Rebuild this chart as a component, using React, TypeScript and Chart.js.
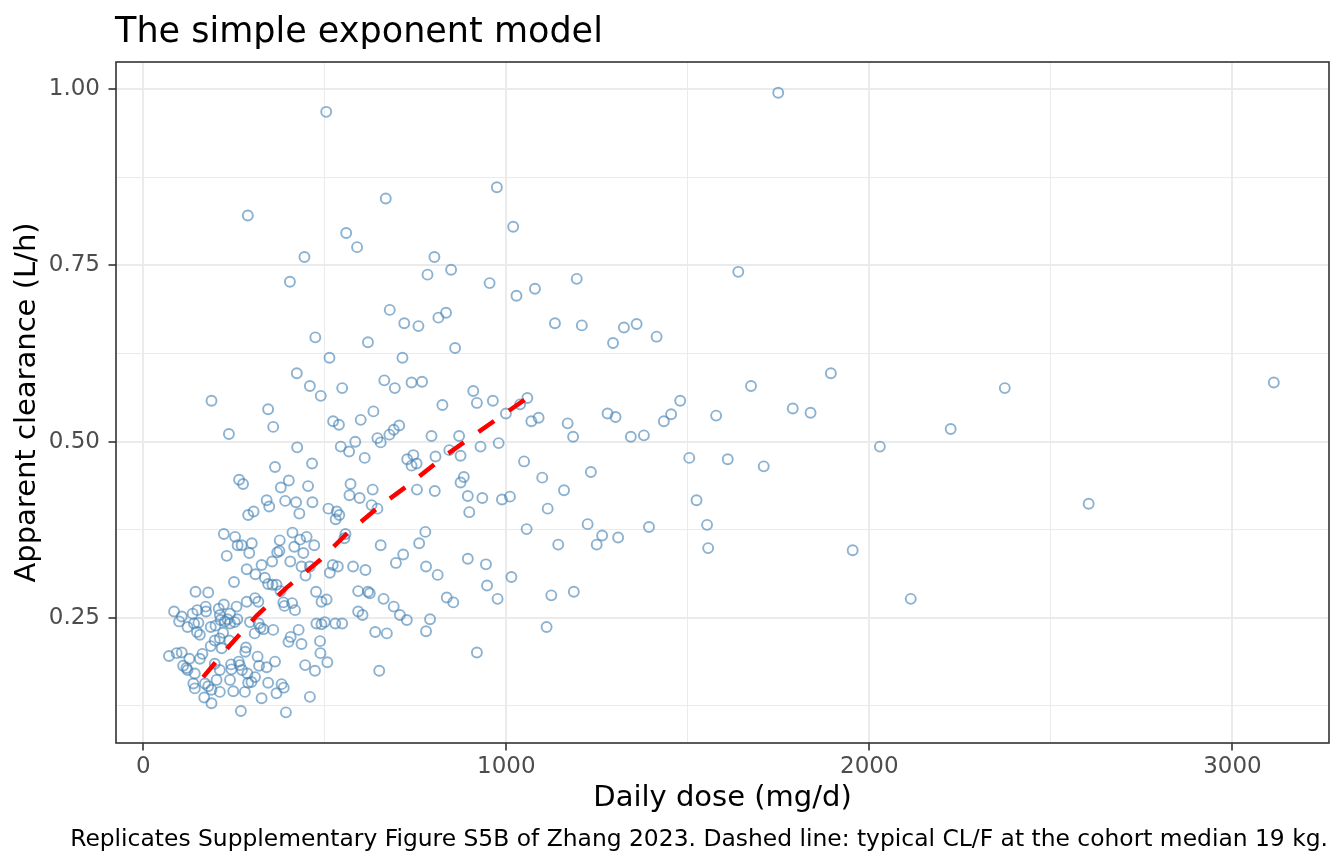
import { useEffect, useRef } from 'react';
import { Chart, registerables } from 'chart.js';

Chart.register(...registerables);

const FONT = 'DejaVu Sans';

const chartTitle = 'The simple exponent model';
const chartCaption =
  'Replicates Supplementary Figure S5B of Zhang 2023. Dashed line: typical CL/F at the cohort median 19 kg.';

// observed daily dose (mg/d) per patient
const doses = [
  504, 668, 288, 559, 589, 444, 802, 783, 404, 679, 719, 758, 813, 474, 619, 513, 714, 423, 459, 548,
  664, 693, 739, 768,
  974, 1019, 848, 954, 1028, 1079, 1194, 834, 1134, 1208, 1324, 1359, 1294, 1414, 859,
  1749, 1639, 1894, 1674, 2373,
  1789, 1838, 2224, 2029, 1610, 1709, 1954, 2114,
  3114, 2604,
  824, 909, 919, 963, 999, 1038, 1058, 1069, 1089, 1169, 1184, 1279, 1301, 1343, 1379, 1434, 1454, 1479,
  1578, 870, 929, 979, 843, 874, 1049, 1504, 883, 874, 1099, 1233, 1159, 894, 934, 988, 1010, 898, 1114,
  1524, 1056, 1224, 1264, 1249, 1308, 1393, 1143, 1553, 1556, 894, 944,
  947, 1014, 836, 854, 976, 1124, 1186, 1111, 919,
  188, 344, 358, 236, 489, 523, 539, 599, 634, 544, 567, 584, 610, 645, 654, 678, 690, 705, 794, 424,
  465, 363, 264, 275, 401, 379, 454, 571, 568, 596, 632, 629, 645, 727, 744, 739, 753, 805, 754, 803,
  340, 347, 391, 421, 430, 466, 289, 304, 510, 533, 540, 530, 222, 253, 260, 271, 299, 292, 230, 376,
  411, 432, 450, 416, 375, 369, 441, 471, 557, 554, 654, 716, 777, 760,
  285, 309, 326, 355, 405, 436, 459, 447, 514, 522, 536, 578, 612, 696, 779, 811, 250, 335, 344, 356,
  367, 378, 144, 179, 476, 592, 619, 624, 662, 85, 106, 136, 149, 172, 173, 208, 222, 239, 257, 285,
  308, 317, 386, 389, 410, 418, 491, 505, 592, 604, 690, 707, 726, 790, 779, 99, 122, 140, 152, 148,
  156, 186, 199, 211, 213, 225, 232, 239, 252, 259, 294, 318, 323, 331, 307, 358, 477, 491, 500, 529,
  548, 639, 671, 220, 211, 237, 197, 186, 216, 283, 281, 406, 400, 428, 436, 487, 488, 71, 92, 106,
  127, 163, 156, 315, 363, 446, 507, 473, 650, 110, 119, 122, 142, 197, 211, 242, 243, 263, 266, 272,
  287, 319, 340, 138, 142, 170, 179, 188, 202, 211, 239, 248, 280, 289, 298, 308, 344, 381, 387, 367,
  168, 188, 269, 326, 393, 459,
];

// apparent clearance CL/F (L/h), same order as doses
const clearances = [
  0.968, 0.845, 0.821, 0.796, 0.776, 0.762, 0.762, 0.737, 0.727, 0.687, 0.668, 0.664, 0.676, 0.648,
  0.641, 0.619, 0.619, 0.597, 0.579, 0.576, 0.587, 0.576, 0.584, 0.585,
  0.861, 0.805, 0.744, 0.725, 0.707, 0.717, 0.731, 0.683, 0.668, 0.665, 0.662, 0.667, 0.64, 0.649,
  0.633,
  0.995, 0.741, 0.597, 0.579, 0.576,
  0.547, 0.541, 0.518, 0.493, 0.475, 0.465, 0.346, 0.277,
  0.584, 0.412,
  0.552, 0.572, 0.555, 0.558, 0.54, 0.553, 0.562, 0.529, 0.534, 0.526, 0.507, 0.54, 0.535, 0.507,
  0.509, 0.529, 0.539, 0.558, 0.537, 0.508, 0.493, 0.498, 0.488, 0.48, 0.472, 0.477, 0.45, 0.442,
  0.449, 0.457, 0.431, 0.423, 0.42, 0.418, 0.422, 0.4, 0.405, 0.417, 0.376, 0.383, 0.367, 0.354,
  0.364, 0.379, 0.354, 0.382, 0.349, 0.334, 0.326,
  0.296, 0.308, 0.279, 0.272, 0.277, 0.282, 0.287, 0.237, 0.201,
  0.558, 0.546, 0.521, 0.511, 0.565, 0.529, 0.524, 0.531, 0.543, 0.493, 0.486, 0.5, 0.477, 0.505,
  0.499, 0.51, 0.517, 0.523, 0.508, 0.492, 0.469, 0.464, 0.446, 0.44, 0.445, 0.435, 0.437, 0.44,
  0.424, 0.42, 0.432, 0.41, 0.405, 0.475, 0.481, 0.466, 0.469, 0.479, 0.432, 0.43, 0.417, 0.408,
  0.416, 0.414, 0.398, 0.414, 0.396, 0.401, 0.405, 0.401, 0.396, 0.39, 0.369, 0.365, 0.353, 0.353,
  0.356, 0.342, 0.338, 0.36, 0.371, 0.361, 0.365, 0.351, 0.345, 0.343, 0.342, 0.353, 0.369, 0.363,
  0.353, 0.34, 0.372, 0.356,
  0.319, 0.312, 0.325, 0.33, 0.33, 0.323, 0.323, 0.31, 0.314, 0.325, 0.323, 0.323, 0.318, 0.328,
  0.323, 0.311, 0.301, 0.307, 0.298, 0.297, 0.297, 0.288, 0.287, 0.286, 0.287, 0.288, 0.287, 0.285,
  0.277, 0.259, 0.252, 0.256, 0.261, 0.266, 0.259, 0.263, 0.269, 0.256, 0.266, 0.273, 0.278, 0.273,
  0.272, 0.267, 0.271, 0.261, 0.273, 0.276, 0.259, 0.254, 0.266, 0.254, 0.247, 0.248, 0.231, 0.245,
  0.237, 0.242, 0.243, 0.23, 0.226, 0.237, 0.239, 0.254, 0.247, 0.245, 0.248, 0.242, 0.244, 0.248,
  0.244, 0.242, 0.236, 0.234, 0.228, 0.233, 0.242, 0.241, 0.244, 0.242, 0.242, 0.23, 0.228, 0.229,
  0.221, 0.218, 0.218, 0.21, 0.207, 0.208, 0.202, 0.223, 0.216, 0.233, 0.213, 0.217, 0.2, 0.196, 0.2,
  0.201, 0.192, 0.199, 0.192, 0.195, 0.188, 0.183, 0.187, 0.175, 0.175, 0.182, 0.179, 0.176, 0.171,
  0.185, 0.176, 0.184, 0.177, 0.188, 0.183, 0.176, 0.171, 0.182, 0.18, 0.157, 0.15, 0.157, 0.153,
  0.148, 0.162, 0.145, 0.162, 0.146, 0.145, 0.158, 0.159, 0.166, 0.158, 0.156, 0.151, 0.143, 0.137,
  0.129, 0.118, 0.136, 0.116, 0.138,
];

// typical CL/F curve at the cohort median weight
const typicalDose = [165, 237, 312, 395, 487, 560, 650, 742, 831, 921, 1013, 1060];
const typicalCL = [0.166, 0.21, 0.253, 0.293, 0.332, 0.369, 0.408, 0.443, 0.48, 0.513, 0.546, 0.563];

const xTicks = [0, 500, 1000, 1500, 2000, 2500, 3000];
const xTickLabels = ['0', '', '1000', '', '2000', '', '3000'];
const yTicks = [0.125, 0.25, 0.375, 0.5, 0.625, 0.75, 0.875, 1];
const yTickLabels = ['', '0.25', '', '0.50', '', '0.75', '', '1.00'];

const ggText = {
  id: 'ggText',
  afterDatasetsDraw(chart: Chart) {
    const { ctx, chartArea } = chart;
    ctx.save();
    // panel border on top of the marks
    ctx.strokeStyle = '#333333';
    ctx.lineWidth = 1.6;
    ctx.strokeRect(chartArea.left, chartArea.top, chartArea.right - chartArea.left, chartArea.bottom - chartArea.top);
    ctx.restore();
  },
  afterDraw(chart: Chart) {
    const { ctx, chartArea } = chart;
    ctx.save();
    ctx.fillStyle = '#000000';
    ctx.textBaseline = 'alphabetic';
    ctx.font = `35px "${FONT}"`;
    ctx.textAlign = 'left';
    ctx.fillText(chartTitle, chartArea.left - 1, 42);
    ctx.font = `23.4px "${FONT}"`;
    ctx.textAlign = 'right';
    ctx.fillText(chartCaption, chartArea.right - 1, 846);
    ctx.restore();
  },
};

export default function App() {
  const canvasRef = useRef<HTMLCanvasElement>(null);
  const chartRef = useRef<Chart | null>(null);

  useEffect(() => {
    document.body.style.margin = '0';
    if (!canvasRef.current) return;
    if (chartRef.current) chartRef.current.destroy();

    const points = doses.map((d, i) => ({ x: d, y: clearances[i] }));
    const curve = typicalDose.map((d, i) => ({ x: d, y: typicalCL[i] }));

    chartRef.current = new Chart(canvasRef.current, {
      type: 'scatter',
      data: {
        datasets: [
          {
            label: 'Typical CL/F',
            data: curve,
            showLine: true,
            borderColor: '#FF0000',
            borderWidth: 4.5,
            borderDash: [19, 18],
            borderCapStyle: 'butt',
            pointRadius: 0,
            fill: false,
            order: 0,
          },
          {
            label: 'Observed',
            data: points,
            pointStyle: 'circle',
            pointRadius: 5,
            pointBorderWidth: 1.9,
            borderColor: 'rgba(70, 130, 180, 0.62)',
            backgroundColor: 'rgba(0, 0, 0, 0)',
            order: 1,
          },
        ],
      },
      options: {
        animation: false,
        responsive: false,
        events: [],
        layout: { padding: { top: 62, right: 15, bottom: 0, left: 0 } },
        plugins: {
          legend: { display: false },
          title: { display: false },
          tooltip: { enabled: false },
        },
        scales: {
          x: {
            type: 'linear',
            min: -75,
            max: 3266,
            afterBuildTicks: (scale: any) => {
              scale.ticks = xTicks.map((v) => ({ value: v }));
            },
            afterFit: (scale: any) => {
              scale.height = 121;
            },
            ticks: {
              autoSkip: false,
              maxRotation: 0,
              padding: 5,
              color: '#4D4D4D',
              font: { family: FONT, size: 23, lineHeight: 1 },
              callback: (_v: any, i: number) => xTickLabels[i],
            },
            grid: {
              color: '#EBEBEB',
              lineWidth: (ctx: any) => (xTickLabels[ctx.index] ? 2 : 1),
              tickColor: (ctx: any) => (xTickLabels[ctx.index] ? '#333333' : 'rgba(0,0,0,0)'),
              tickLength: 7.5,
              tickWidth: 1.6,
            },
            border: { display: false },
            title: {
              display: true,
              text: 'Daily dose (mg/d)',
              color: '#000000',
              font: { family: FONT, size: 29, lineHeight: 1 },
              padding: { top: 0, bottom: 51.5 },
            },
          },
          y: {
            type: 'linear',
            min: 0.0725,
            max: 1.0387,
            afterBuildTicks: (scale: any) => {
              scale.ticks = yTicks.map((v) => ({ value: v }));
            },
            afterFit: (scale: any) => {
              scale.width = 116;
            },
            ticks: {
              autoSkip: false,
              padding: 8.5,
              color: '#4D4D4D',
              font: { family: FONT, size: 23, lineHeight: 1 },
              callback: (_v: any, i: number) => yTickLabels[i],
            },
            grid: {
              color: '#EBEBEB',
              lineWidth: (ctx: any) => (yTickLabels[ctx.index] ? 2 : 1),
              tickColor: (ctx: any) => (yTickLabels[ctx.index] ? '#333333' : 'rgba(0,0,0,0)'),
              tickLength: 7.5,
              tickWidth: 1.6,
            },
            border: { display: false },
            title: {
              display: true,
              text: 'Apparent clearance (L/h)',
              color: '#000000',
              font: { family: FONT, size: 29, lineHeight: 1 },
              padding: { top: 12.5, bottom: 0 },
            },
          },
        },
      },
      plugins: [ggText],
    });

    return () => {
      if (chartRef.current) {
        chartRef.current.destroy();
        chartRef.current = null;
      }
    };
  }, []);

  return (
    <div style={{ width: 1344, height: 864, background: '#ffffff' }}>
      <canvas ref={canvasRef} width={1344} height={864} style={{ display: 'block' }}></canvas>
    </div>
  );
}
